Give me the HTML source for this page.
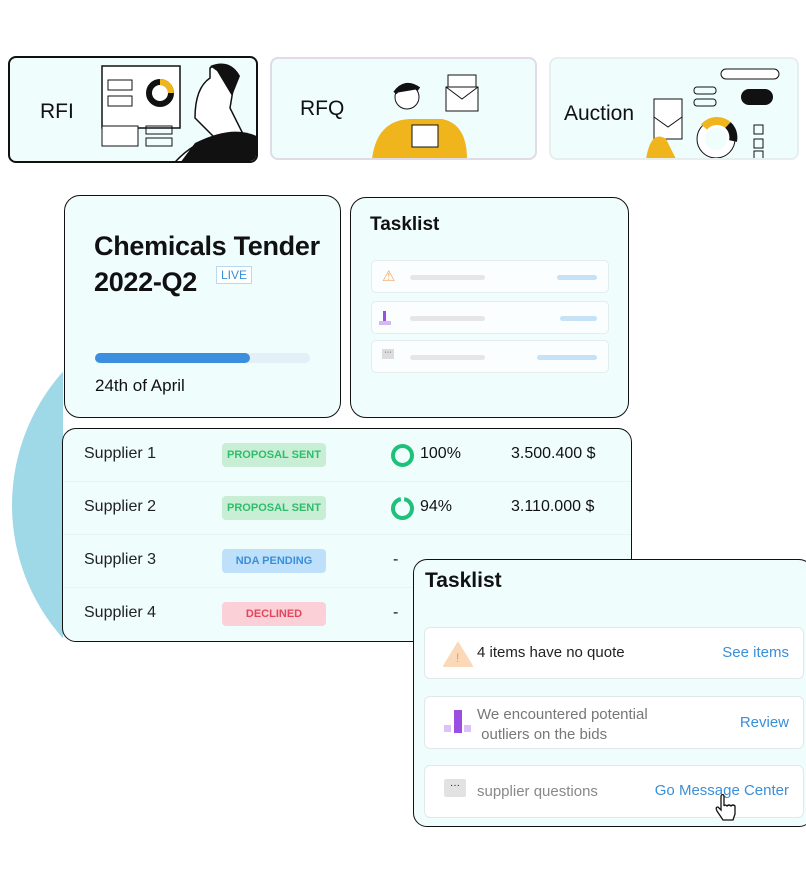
<!DOCTYPE html>
<html><head><meta charset="utf-8"><style>
*{box-sizing:border-box;margin:0;padding:0}
body{width:806px;height:870px;background:#fff;position:relative;overflow:hidden;font-family:"Liberation Sans",sans-serif;color:#111}
.a{position:absolute}
.card{position:absolute;background:#effdfd;border:1px solid #111;border-radius:16px}
.top{position:absolute;background:#effdfd;border-radius:8px;overflow:hidden}
.top .t{position:absolute;font-size:21px;font-weight:500}
.pill{position:absolute;height:24px;border-radius:4px;font-size:11px;font-weight:bold;text-align:center;line-height:24px;width:104px}
.row{position:absolute;left:0;right:0;height:53px;border-bottom:1px solid #e6f4f4}
.row .n{position:absolute;left:21px;top:16px;font-size:16px;color:#222}
.mini{position:absolute;left:20px;width:238px;height:33px;background:#fafefe;border:1px solid #e4ecec;border-radius:5px}
.bar{position:absolute;height:5px;border-radius:3px;top:14px}
.big{position:absolute;left:10px;width:380px;background:#fff;border:1px solid #e0e8e8;border-radius:6px}
.big .tx{position:absolute;left:52px;font-size:15px}
.big .lk{position:absolute;right:14px;color:#3a8fd9;font-size:15px}
</style></head><body>
<div class="a" style="left:0;top:0;width:63px;height:870px;overflow:hidden"><div class="a" style="left:12px;top:305px;width:400px;height:400px;border-radius:50%;background:#9fd8e6"></div></div>

<div class="top" style="left:8px;top:56px;width:250px;height:107px;border:2px solid #111">
<div class="t" style="left:30px;top:42px">RFI</div>
<svg class="a" style="left:80px;top:0" width="170" height="105"><rect x="12" y="8" width="78" height="62" fill="#fff" stroke="#111" stroke-width="1.5"/><rect x="18" y="22" width="24" height="10" fill="none" stroke="#111"/><rect x="18" y="38" width="24" height="10" fill="none" stroke="#111"/><circle cx="70" cy="35" r="11" fill="none" stroke="#111" stroke-width="6"/><path d="M70 24 A11 11 0 0 1 81 35" stroke="#f0b51c" stroke-width="6" fill="none"/><rect x="12" y="68" width="36" height="20" fill="#fff" stroke="#111"/><rect x="56" y="68" width="26" height="8" fill="none" stroke="#111"/><rect x="56" y="80" width="26" height="8" fill="none" stroke="#111"/><path d="M120 10 q15 -10 25 10 l-5 30 q10 20 20 40 l10 20 H80 q20 -25 45 -30 l-20 -20 q0 -30 15 -40z" fill="#fff" stroke="#111" stroke-width="1.5"/><path d="M105 85 q40 -20 65 -5 v25 H90z" fill="#111"/><path d="M120 8 q20 -8 30 10 l-8 20 -15 -25z" fill="#111"/></svg>
</div>
<div class="top" style="left:270px;top:57px;width:267px;height:103px;border:2px solid #e0dbe6">
<div class="t" style="left:28px;top:38px">RFQ</div>
<svg class="a" style="left:80px;top:0" width="185" height="100"><path d="M20 100 q5 -40 40 -40 l30 0 q25 5 25 40z" fill="#f0b51c"/><circle cx="55" cy="38" r="12" fill="#fff" stroke="#111"/><path d="M43 34 q10 -14 24 -4" fill="#111" stroke="#111" stroke-width="4"/><rect x="60" y="66" width="26" height="22" fill="#fff" stroke="#111"/><rect x="96" y="16" width="28" height="16" fill="#fff" stroke="#111"/><rect x="94" y="28" width="32" height="24" fill="#fff" stroke="#111"/><path d="M94 28 l16 12 16 -12" fill="none" stroke="#111"/></svg>
</div>
<div class="top" style="left:549px;top:57px;width:250px;height:103px;border:2px solid #e6eeee">
<div class="t" style="left:13px;top:43px">Auction</div>
<svg class="a" style="left:95px;top:0" width="155" height="100"><rect x="75" y="10" width="58" height="10" rx="5" fill="#fff" stroke="#111"/><rect x="48" y="28" width="22" height="7" rx="3" fill="none" stroke="#111"/><rect x="48" y="40" width="22" height="7" rx="3" fill="none" stroke="#111"/><rect x="95" y="30" width="32" height="16" rx="8" fill="#111"/><rect x="8" y="40" width="28" height="40" fill="#fff" stroke="#111"/><path d="M8 58 l14 10 14 -10" fill="none" stroke="#111"/><circle cx="70" cy="80" r="15" fill="none" stroke="#fff" stroke-width="8"/><circle cx="70" cy="80" r="19" fill="none" stroke="#111"/><path d="M58 68 A17 17 0 0 1 82 66" stroke="#f0b51c" stroke-width="8" fill="none"/><path d="M82 66 A17 17 0 0 1 87 82" stroke="#111" stroke-width="8" fill="none"/><rect x="108" y="66" width="9" height="9" fill="none" stroke="#111"/><rect x="108" y="80" width="9" height="9" fill="none" stroke="#111"/><rect x="108" y="92" width="9" height="9" fill="none" stroke="#111"/><path d="M0 100 q5 -30 20 -20 l10 20z" fill="#f0b51c"/></svg>
</div>

<div class="card" style="left:64px;top:195px;width:277px;height:223px">
<div class="a" style="left:29px;top:32px;font-size:27px;font-weight:bold;line-height:36px;letter-spacing:-0.3px">Chemicals Tender<br>2022-Q2</div>
<div class="a" style="left:151px;top:70px;border:1px solid #b9d8f2;background:#fff;color:#3a8fd9;font-size:12px;padding:1px 4px">LIVE</div>
<div class="a" style="left:30px;top:157px;width:215px;height:10px;border-radius:5px;background:#e4f0f8"></div>
<div class="a" style="left:30px;top:157px;width:155px;height:10px;border-radius:5px;background:#3b8fde"></div>
<div class="a" style="left:30px;top:180px;font-size:17px">24th of April</div>
</div>
<div class="card" style="left:350px;top:197px;width:279px;height:221px">
<div class="a" style="left:19px;top:16px;font-size:19px;font-weight:bold">Tasklist</div>
<div class="mini" style="top:62px"><span class="a" style="left:10px;top:6px;color:#f6a55c;font-size:15px">⚠</span><div class="bar" style="left:38px;width:75px;background:#e6e6e6"></div><div class="bar" style="left:185px;width:40px;background:#c7e1f5"></div></div>
<div class="mini" style="top:103px"><div class="a" style="left:11px;top:9px;width:3px;height:14px;background:#9b4fe0"></div><div class="a" style="left:7px;top:19px;width:12px;height:4px;background:#d6b7f5"></div><div class="bar" style="left:38px;width:75px;background:#e6e6e6"></div><div class="bar" style="left:188px;width:37px;background:#c7e1f5"></div></div>
<div class="mini" style="top:142px"><div class="a" style="left:10px;top:8px;width:12px;height:10px;background:#ddd;font-size:7px;text-align:center">···</div><div class="bar" style="left:38px;width:75px;background:#e6e6e6"></div><div class="bar" style="left:165px;width:60px;background:#c7e1f5"></div></div>
</div>

<div class="card" style="left:62px;top:428px;width:570px;height:214px;border-radius:14px;overflow:hidden">
<div class="row" style="top:0"><span class="n">Supplier 1</span><div class="pill" style="left:159px;top:14px;background:#c8efd6;color:#2fbd6a">PROPOSAL SENT</div><svg class="a" style="left:327px;top:14px" width="25" height="25"><circle cx="12.5" cy="12.5" r="9.5" fill="none" stroke="#1fc07a" stroke-width="4"/></svg><span class="a" style="left:357px;top:16px;font-size:16px">100%</span><span class="a" style="left:448px;top:16px;font-size:16px">3.500.400 $</span></div>
<div class="row" style="top:53px"><span class="n">Supplier 2</span><div class="pill" style="left:159px;top:14px;background:#c8efd6;color:#2fbd6a">PROPOSAL SENT</div><svg class="a" style="left:327px;top:14px" width="25" height="25"><circle cx="12.5" cy="12.5" r="9.5" fill="none" stroke="#1fc07a" stroke-width="4" stroke-dasharray="56 4" transform="rotate(-80 12.5 12.5)"/></svg><span class="a" style="left:357px;top:16px;font-size:16px">94%</span><span class="a" style="left:448px;top:16px;font-size:16px">3.110.000 $</span></div>
<div class="row" style="top:106px"><span class="n">Supplier 3</span><div class="pill" style="left:159px;top:14px;background:#bfe0fa;color:#3a8fd9">NDA PENDING</div><span class="a" style="left:330px;top:16px">-</span></div>
<div class="row" style="top:159px;border:none"><span class="n">Supplier 4</span><div class="pill" style="left:159px;top:14px;background:#fbd0d7;color:#e2465f">DECLINED</div><span class="a" style="left:330px;top:16px">-</span></div>
</div>

<div class="card" style="left:413px;top:559px;width:400px;height:268px;border-radius:14px">
<div class="a" style="left:11px;top:9px;font-size:21px;font-weight:bold">Tasklist</div>
<div class="big" style="top:67px;height:52px"><svg class="a" style="left:18px;top:13px" width="30" height="26"><path d="M15 2 L29 25 H1z" fill="#fbd9b8" stroke="#fbd9b8" stroke-linejoin="round" stroke-width="2"/><text x="13" y="21" font-size="12" fill="#f39a3c" font-family="Liberation Sans">!</text></svg><span class="tx" style="top:16px;color:#222">4 items have no quote</span><span class="lk" style="top:16px">See items</span></div>
<div class="big" style="top:136px;height:53px"><div class="a" style="left:29px;top:13px;width:8px;height:23px;background:#9b4fe0"></div><div class="a" style="left:19px;top:28px;width:7px;height:7px;background:#dcc2f7"></div><div class="a" style="left:39px;top:28px;width:7px;height:7px;background:#dcc2f7"></div><span class="tx" style="top:8px;color:#777;line-height:20px">We encountered potential<br>&nbsp;outliers on the bids</span><span class="lk" style="top:17px">Review</span></div>
<div class="big" style="top:205px;height:53px"><div class="a" style="left:19px;top:13px;width:22px;height:18px;background:#e2e2e2;border-radius:2px;font-size:10px;text-align:center;line-height:14px">···</div><span class="tx" style="top:17px;color:#888">supplier questions</span><span class="lk" style="top:16px">Go Message Center</span>
<svg class="a" style="left:290px;top:28px" width="22" height="30"><path d="M6 2 v14 l-3 -3 q-3 0 -1 4 l6 9 h10 l2 -6 v-8 q-2 -2 -4 0 q-2 -2 -4 0 q-2 -2 -3 0 v-10 q-1 -3 -3 0z" fill="#fff" stroke="#111" stroke-width="1.3"/></svg></div>
</div>
</body></html>
